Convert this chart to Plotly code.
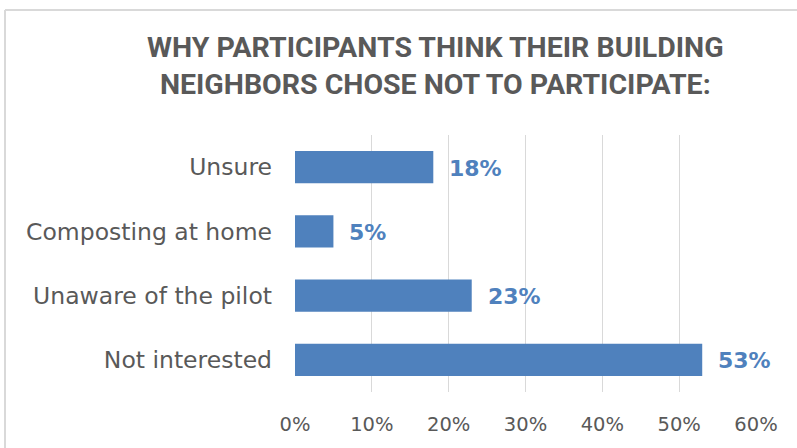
import plotly.graph_objects as go

categories = ["Not interested", "Unaware of the pilot", "Composting at home", "Unsure"]
values = [53, 23, 5, 18]
labels = ["53%", "23%", "5%", "18%"]
tick_vals = [0, 10, 20, 30, 40, 50, 60]
tick_text = ["0%", "10%", "20%", "30%", "40%", "50%", "60%"]
title_lines = ["WHY PARTICIPANTS THINK THEIR BUILDING", "NEIGHBORS CHOSE NOT TO PARTICIPATE:"]

W, H = 797, 448
L, R, T, B = 295, 41, 135, 56
pw = W - L - R
ph = H - T - B

def px(x):
    return (x - L) / pw

def py(y):
    return (H - B - y) / ph

fig = go.Figure()
fig.add_trace(go.Bar(
    x=values, y=categories, orientation="h",
    marker=dict(color="#4F81BD", line=dict(width=0)),
    width=0.5,
))

label_annots = [
    dict(x=v, y=c, xref="x", yref="y", text=t, showarrow=False,
         xanchor="left", yanchor="middle", xshift=14, yshift=-1,
         font=dict(family="DejaVu Sans", size=22, color="#4F81BD", weight="bold"))
    for v, c, t in zip(values, categories, labels)
]

fig.update_layout(
    width=W, height=H,
    margin=dict(l=L, r=R, t=T, b=B),
    paper_bgcolor="white", plot_bgcolor="white",
    showlegend=False,
    xaxis=dict(range=[0, 60], tickvals=tick_vals, ticktext=tick_text,
               showgrid=True, gridcolor="#D9D9D9", gridwidth=1,
               zeroline=False, showline=False, ticks="",
               ticklabelstandoff=18,
               tickfont=dict(family="DejaVu Sans", size=19.5, color="#595959")),
    yaxis=dict(showgrid=False, zeroline=False, showline=False, ticks="",
               ticklabelstandoff=22,
               tickfont=dict(family="DejaVu Sans", size=23.5, color="#595959")),
    shapes=[
        dict(type="line", xref="paper", yref="paper", x0=px(5), x1=px(W + 5), y0=py(10), y1=py(10),
             line=dict(color="#D9D9D9", width=2)),
        dict(type="line", xref="paper", yref="paper", x0=px(5), x1=px(5), y0=py(10), y1=py(H + 5),
             line=dict(color="#D9D9D9", width=2)),
    ],
    annotations=label_annots + [
        dict(text="<br>".join(title_lines), xref="paper", yref="paper",
             x=px(435), y=py(66), xanchor="center", yanchor="middle",
             showarrow=False, align="center",
             font=dict(family="Liberation Sans Narrow, Roboto", size=28.5, color="#595959", weight="bold")),
    ],
)

fig.write_html("out.html")
